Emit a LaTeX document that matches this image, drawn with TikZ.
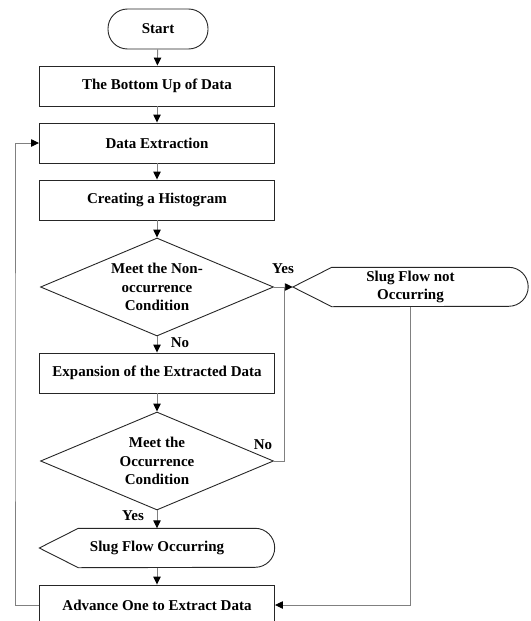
\documentclass[tikz,border=0pt]{standalone}
\usepackage{fontspec}
\setmainfont{Liberation Serif}
\usetikzlibrary{arrows.meta}
\usetikzlibrary{shapes.geometric}
\begin{document}
\begin{tikzpicture}[x=1pt,y=-1pt]
\tikzset{>={Triangle[width=2.6mm,length=2.8mm,color=black]}}
\tikzstyle{base} =[font=\fontsize{15}{18.5}\selectfont\bfseries, align=center, inner sep=0pt]
\tikzstyle{process} =[base, rectangle, draw=black!85, line width=0.9pt, minimum width=235pt, minimum height=40pt]
\tikzstyle{terminal} =[base, rectangle, draw=black!85, line width=0.9pt, rounded corners=19.5pt, minimum width=100pt, minimum height=40pt]
\tikzstyle{decision} =[base, diamond, draw=black!85, line width=0.9pt, aspect=2.35, minimum width=233pt, minimum height=98pt]
\tikzstyle{display} =[base, rectangle, minimum width=235pt, minimum height=39pt]
\tikzstyle{flow} =[draw=black!50, line width=0.9pt]
\tikzstyle{tag} =[base]
\newcommand{\displayshape}[1]{%
  \draw[black!85, line width=0.9pt] (#1.west) -- ([xshift=39pt]#1.north west)
    -- ([xshift=-19.5pt]#1.north east) arc[start angle=90, end angle=-90, radius=19.5pt]
    -- ([xshift=39pt]#1.south west) -- cycle;}
\useasboundingbox (0,0) rectangle (530,621);
% main column
\node[terminal](start) at (158,29){Start};
\node[process](bottomup) at (157,86){The Bottom Up of Data};
\node[process](extract) at (157,143){Data Extraction};
\node[process](histo) at (157,200){Creating a Histogram};
\node[decision](nonocc) at (157,287){Meet the Non-\\occurrence\\Condition};
\node[process](expand) at (157,373){Expansion of the Extracted Data};
\node[decision](occ) at (157,461){Meet the\\Occurrence\\Condition};
\node[display](flowyes) at (157,548){Slug Flow Occurring};
\node[process](advance) at (157,605){Advance One to Extract Data};
% right branch
\node[display](flowno) at (410.5,287){Slug Flow not\\Occurring};
\displayshape{flowyes}
\displayshape{flowno}
\coordinate (join) at (284,287);
\coordinate (loop) at (15,400);
% connectors
\draw [->,flow] (start) -- (bottomup);
\draw [->,flow] (bottomup) -- (extract);
\draw [->,flow] (extract) -- (histo);
\draw [->,flow] (histo) -- (nonocc);
\draw [->,flow] (nonocc) -- (expand);
\draw [->,flow] (expand) -- (occ);
\draw [->,flow] (occ) -- (flowyes);
\draw [->,flow] (flowyes) -- (advance);
\draw [->,flow] (nonocc.east) -- (flowno.west);
\draw [flow] (occ.east) -| (join);
\draw [->,flow] (flowno.south) |- (advance.east);
\draw [->,flow] (advance.west) -| (loop) |- (extract.west);
% labels
\node[tag](yes1) at (283,269){Yes};
\node[tag](no1) at (180,343){No};
\node[tag](no2) at (263,445){No};
\node[tag](yes2) at (133,516){Yes};
\end{tikzpicture}
\end{document}
